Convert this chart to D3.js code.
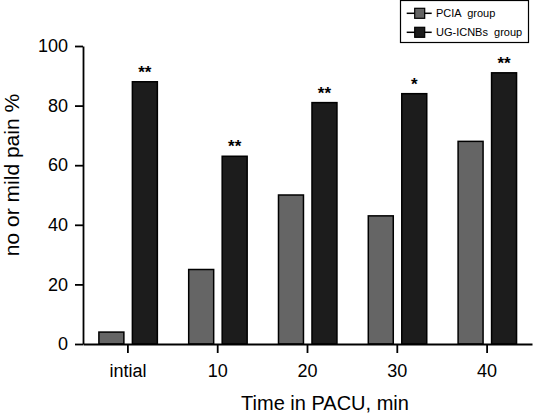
<!DOCTYPE html>
<html>
<head>
<meta charset="utf-8">
<script src="https://cdn.jsdelivr.net/npm/d3@7"></script>
<style>
  html, body { margin: 0; padding: 0; background: #fff; }
  svg { display: block; font-family: "Liberation Sans", Arial, sans-serif; }
</style>
</head>
<body>
<svg id="chart" width="533" height="416"></svg>
<script>
const categories = ["intial", "10", "20", "30", "40"];
const seriesNames = ["PCIA  group", "UG-ICNBs  group"];
const pciaValues = [4, 25, 50, 43, 68];
const ugValues = [88, 63, 81, 84, 91];
const significance = ["**", "**", "**", "*", "**"];
const yTicks = [0, 20, 40, 60, 80, 100];
const xTitle = "Time in PACU, min";
const yTitle = "no or mild pain %";

const colors = ["#656565", "#1c1c1c"];

const svg = d3.select("#chart");

const x = d3.scaleBand().domain(categories).range([83, 532]).paddingInner(0).paddingOuter(0);
const bw = x.bandwidth();
const xSub = d3.scaleBand().domain([0, 1]).range([bw * 0.177, bw * 0.828]).paddingInner(0.254).paddingOuter(0);
const y = d3.scaleLinear().domain([0, 100]).range([344, 46]);

const rows = categories.map((c, i) => ({ cat: c, vals: [pciaValues[i], ugValues[i]], sig: significance[i] }));

// bars
const g = svg.append("g");
rows.forEach(r => {
  r.vals.forEach((v, j) => {
    g.append("rect")
      .attr("x", x(r.cat) + xSub(j))
      .attr("y", y(v))
      .attr("width", xSub.bandwidth())
      .attr("height", y(0) - y(v))
      .attr("fill", colors[j])
      .attr("stroke", "#000")
      .attr("stroke-width", 1.5);
  });
  g.append("text")
    .attr("x", x(r.cat) + xSub(1) + xSub.bandwidth() / 2)
    .attr("y", y(r.vals[1]) - 4)
    .attr("text-anchor", "middle")
    .attr("font-size", 17)
    .attr("font-weight", "bold")
    .attr("fill", "#000")
    .text(r.sig);
});

// axes
const yAxis = d3.axisLeft(y).tickValues(yTicks).tickSize(8).tickSizeOuter(0).tickPadding(7);
const yg = svg.append("g").attr("transform", "translate(83,0)").call(yAxis);
yg.selectAll("text").attr("font-size", 18).attr("font-family", "Liberation Sans, Arial, sans-serif").attr("fill", "#000");
yg.selectAll("line, path").attr("stroke", "#000").attr("stroke-width", 1.8);

const xAxis = d3.axisBottom(x).tickSize(9).tickSizeOuter(0).tickPadding(11);
const xg = svg.append("g").attr("transform", "translate(0,344)").call(xAxis);
xg.selectAll("text").attr("font-size", 18).attr("font-family", "Liberation Sans, Arial, sans-serif").attr("fill", "#000");
xg.selectAll("line, path").attr("stroke", "#000").attr("stroke-width", 1.8);

// titles
svg.append("text")
  .attr("x", 325).attr("y", 410)
  .attr("text-anchor", "middle")
  .attr("font-size", 20)
  .attr("fill", "#000")
  .text(xTitle);

svg.append("text")
  .attr("transform", "translate(18.5,175) rotate(-90)")
  .attr("text-anchor", "middle")
  .attr("font-size", 21)
  .attr("fill", "#000")
  .text(yTitle);

// legend
const lg = svg.append("g");
lg.append("rect").attr("x", 400.5).attr("y", 0.5).attr("width", 128).attr("height", 42)
  .attr("fill", "#fff").attr("stroke", "#000").attr("stroke-width", 1.2);
const rowY = [13.3, 32.3];
seriesNames.forEach((name, i) => {
  lg.append("line").attr("x1", 406.7).attr("x2", 431.7).attr("y1", rowY[i]).attr("y2", rowY[i])
    .attr("stroke", "#000").attr("stroke-width", 1.5);
  lg.append("rect").attr("x", 414.7).attr("y", rowY[i] - 5).attr("width", 10).attr("height", 10)
    .attr("fill", colors[i]).attr("stroke", "#000").attr("stroke-width", 1.2);
  lg.append("text").attr("x", 436).attr("y", rowY[i] + 4)
    .attr("font-size", 11).attr("fill", "#000")
    .style("white-space", "pre")
    .text(name);
});
</script>
</body>
</html>
